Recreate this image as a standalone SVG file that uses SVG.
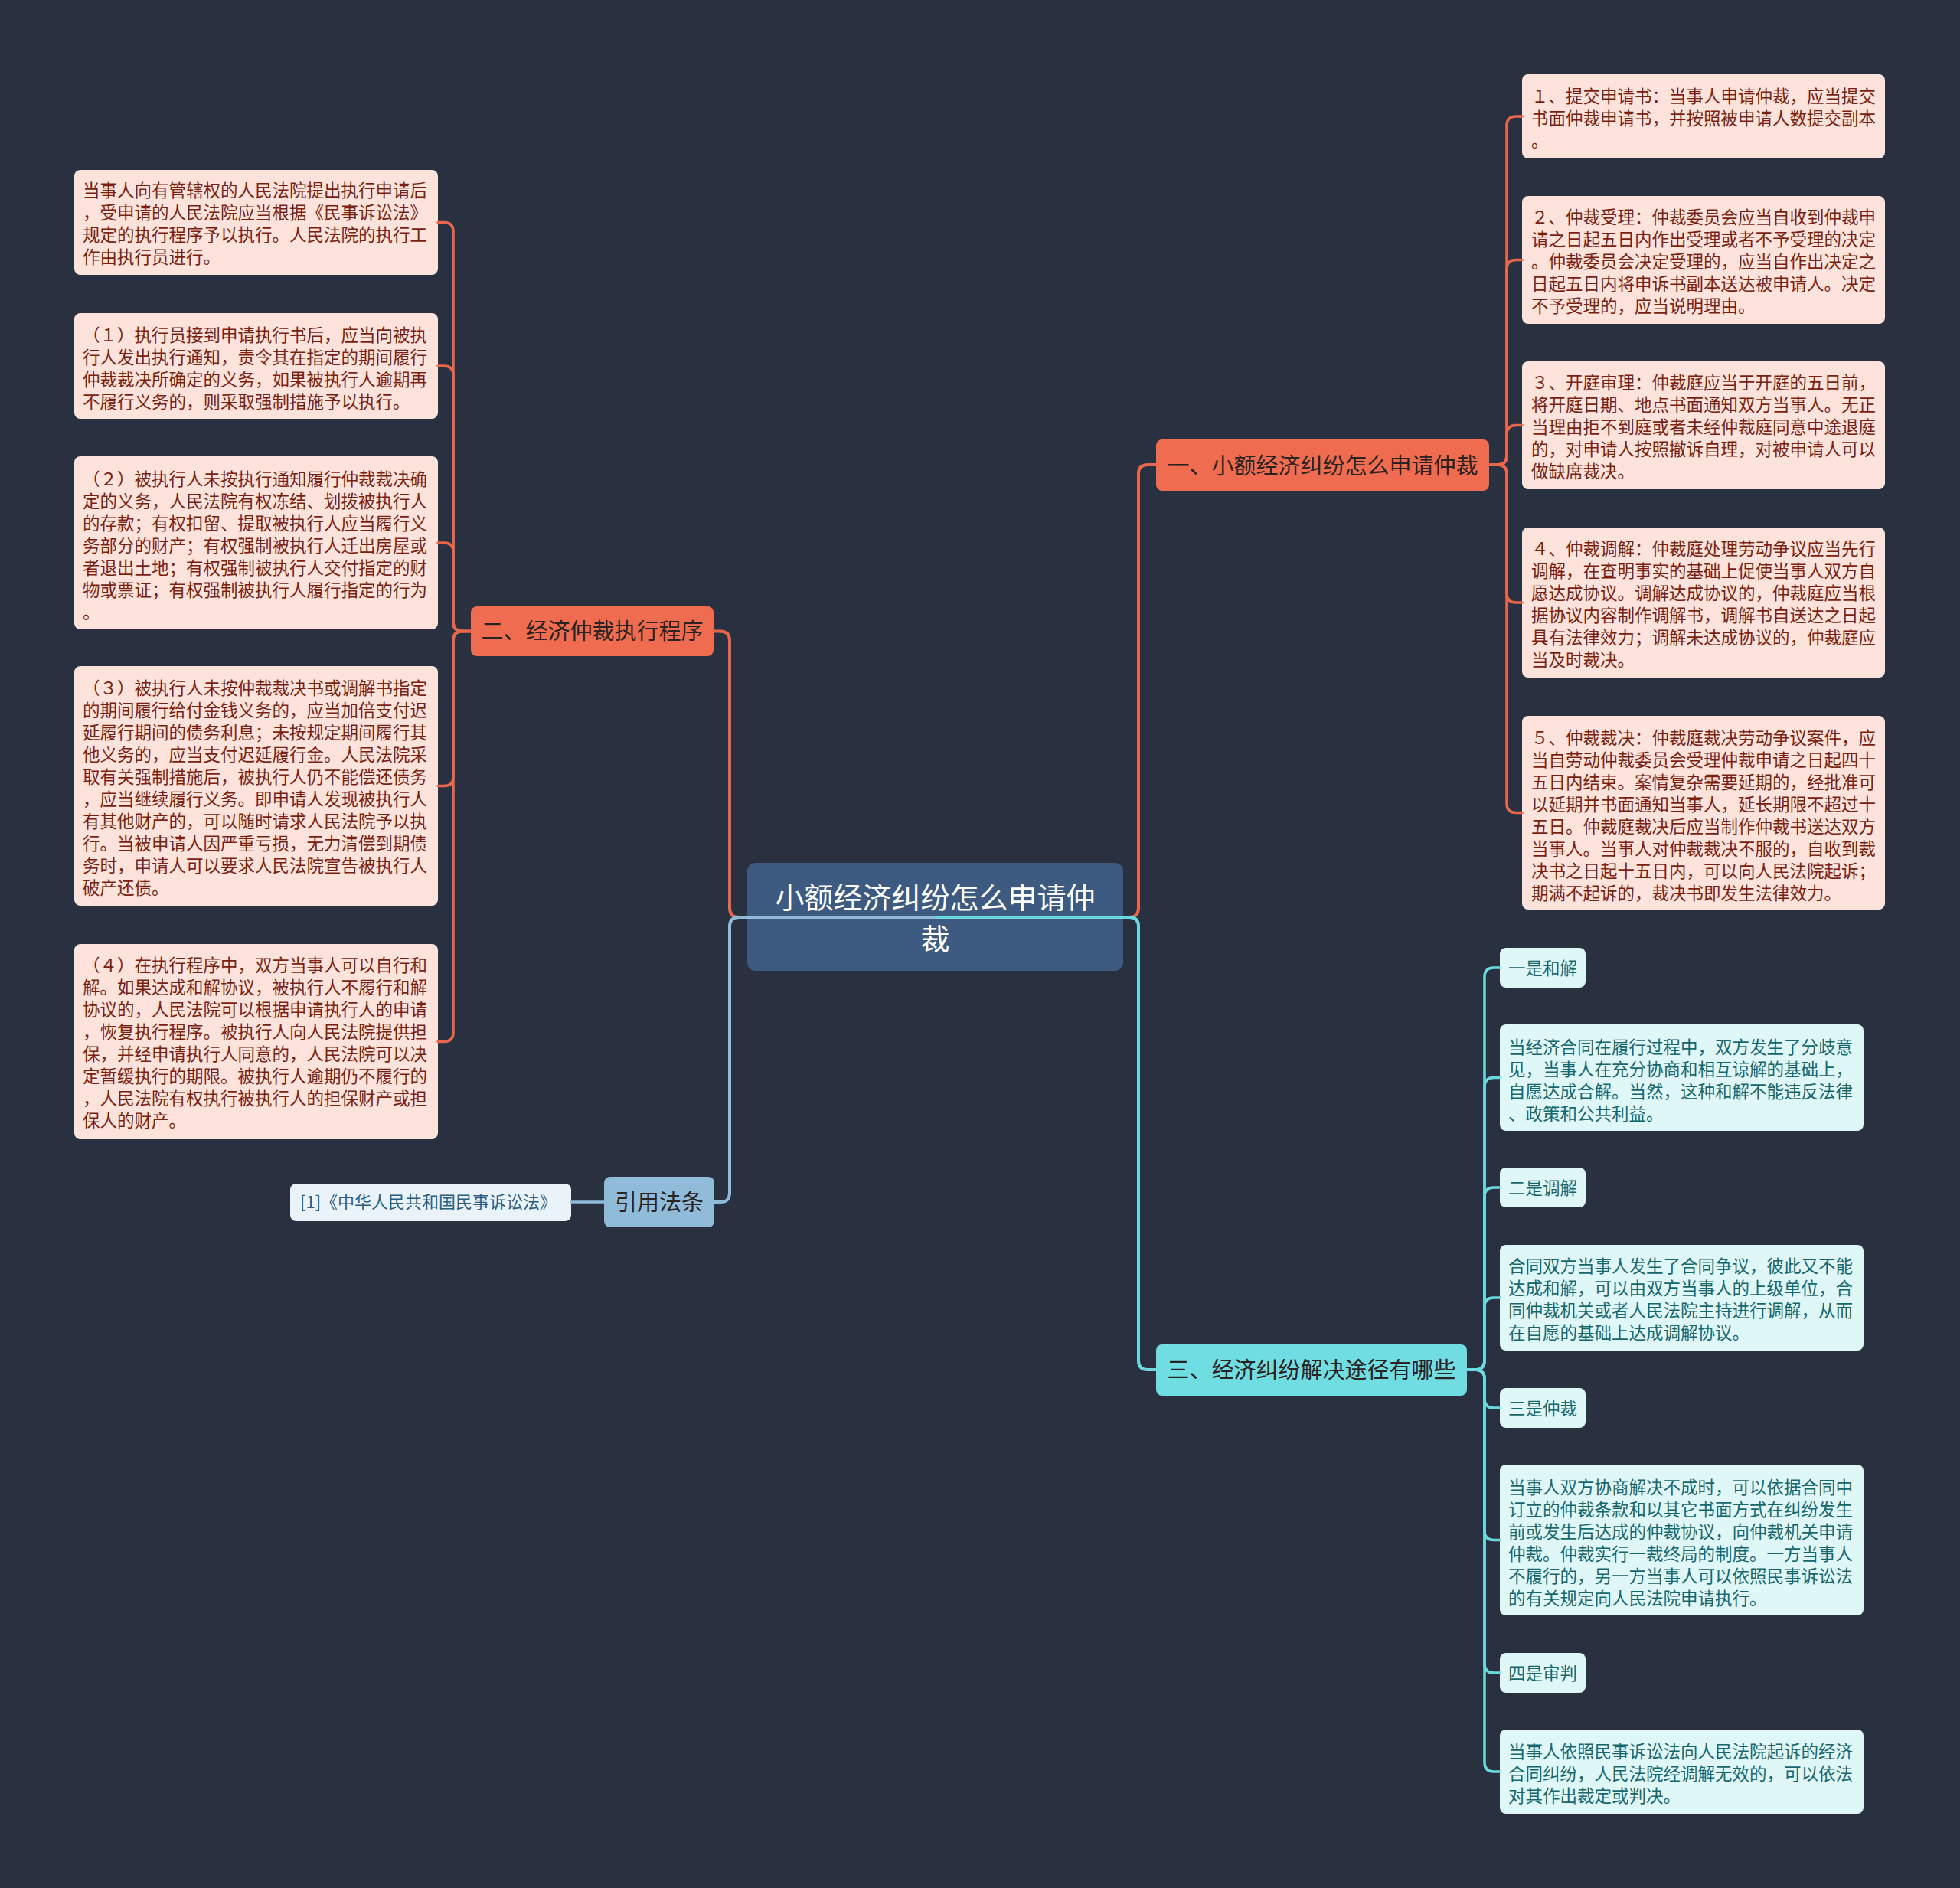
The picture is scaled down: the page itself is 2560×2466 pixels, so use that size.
<svg xmlns="http://www.w3.org/2000/svg" width="2560" height="2466" viewBox="0 0 2560 2466">
<style>
text{font-family:"Noto Sans CJK SC","Noto Sans",sans-serif}
.t{font-size:22.5px}
.tp{fill:#7b1f10}
.tc{fill:#16676d}
.pink{fill:#fde3dc}
.cbox{fill:#e0f7f8}
.ln{fill:none;stroke-width:3.5;stroke-linecap:round;stroke-linejoin:round}
.red{stroke:#e8674c}
.cy{stroke:#6cd9df}
.lb{stroke:#8fbad8}
.main{stroke-width:4}
.br{font-size:29px;fill:#2a2322;text-anchor:middle}
</style>
<rect x="0" y="0" width="2560" height="2466" fill="#293040"/>

<g id="n-center">
<rect x="976" y="1127" width="491" height="141" rx="11" fill="#3d5a80"/>
<text x="1221.5" y="1186" font-size="38" fill="#ffffff" text-anchor="middle">小额经济纠纷怎么申请仲</text>
<text x="1221.5" y="1240" font-size="38" fill="#ffffff" text-anchor="middle">裁</text>
</g>

<g id="n-b1">
<rect x="1510" y="574" width="435" height="67" rx="8" fill="#f06c50"/>
<text class="br" x="1727.5" y="619">一、小额经济纠纷怎么申请仲裁</text>
</g>
<g id="n-b2">
<rect x="615" y="792" width="317" height="65" rx="8" fill="#f06c50"/>
<text class="br" x="773.5" y="835">二、经济仲裁执行程序</text>
</g>
<g id="n-b3">
<rect x="1510" y="1756" width="406" height="67" rx="8" fill="#70dde3"/>
<text class="br" x="1713" y="1800" fill="#1e2b33">三、经济纠纷解决途径有哪些</text>
</g>
<g id="n-ref">
<rect x="789" y="1537" width="144" height="66" rx="8" fill="#90bcd9"/>
<text class="br" x="861" y="1581">引用法条</text>
</g>
<g id="n-ref1">
<rect x="379" y="1546" width="367" height="49" rx="8" fill="#e9f3f9"/>
<text x="392" y="1578" font-size="22" fill="#2a5d80">[1]《中华人民共和国民事诉讼法》</text>
</g>

<g id="n-r1">
<rect class="pink" x="1988" y="97" width="474" height="110" rx="8"/>
<text class="t tp"><tspan x="2000" y="133.5">１、提交申请书：当事人申请仲裁，应当提交</tspan><tspan x="2000" y="162.5">书面仲裁申请书，并按照被申请人数提交副本</tspan><tspan x="2000" y="191.5">。</tspan></text>
</g>
<g id="n-r2">
<rect class="pink" x="1988" y="256" width="474" height="167" rx="8"/>
<text class="t tp"><tspan x="2000" y="291.5">２、仲裁受理：仲裁委员会应当自收到仲裁申</tspan><tspan x="2000" y="320.5">请之日起五日内作出受理或者不予受理的决定</tspan><tspan x="2000" y="349.5">。仲裁委员会决定受理的，应当自作出决定之</tspan><tspan x="2000" y="378.5">日起五日内将申诉书副本送达被申请人。决定</tspan><tspan x="2000" y="407.5">不予受理的，应当说明理由。</tspan></text>
</g>
<g id="n-r3">
<rect class="pink" x="1988" y="472" width="474" height="167" rx="8"/>
<text class="t tp"><tspan x="2000" y="507.5">３、开庭审理：仲裁庭应当于开庭的五日前，</tspan><tspan x="2000" y="536.5">将开庭日期、地点书面通知双方当事人。无正</tspan><tspan x="2000" y="565.5">当理由拒不到庭或者未经仲裁庭同意中途退庭</tspan><tspan x="2000" y="594.5">的，对申请人按照撤诉自理，对被申请人可以</tspan><tspan x="2000" y="623.5">做缺席裁决。</tspan></text>
</g>
<g id="n-r4">
<rect class="pink" x="1988" y="689" width="474" height="196" rx="8"/>
<text class="t tp"><tspan x="2000" y="724.5">４、仲裁调解：仲裁庭处理劳动争议应当先行</tspan><tspan x="2000" y="753.5">调解，在查明事实的基础上促使当事人双方自</tspan><tspan x="2000" y="782.5">愿达成协议。调解达成协议的，仲裁庭应当根</tspan><tspan x="2000" y="811.5">据协议内容制作调解书，调解书自送达之日起</tspan><tspan x="2000" y="840.5">具有法律效力；调解未达成协议的，仲裁庭应</tspan><tspan x="2000" y="869.5">当及时裁决。</tspan></text>
</g>
<g id="n-r5">
<rect class="pink" x="1988" y="935" width="474" height="253" rx="8"/>
<text class="t tp"><tspan x="2000" y="971.5">５、仲裁裁决：仲裁庭裁决劳动争议案件，应</tspan><tspan x="2000" y="1000.5">当自劳动仲裁委员会受理仲裁申请之日起四十</tspan><tspan x="2000" y="1029.5">五日内结束。案情复杂需要延期的，经批准可</tspan><tspan x="2000" y="1058.5">以延期并书面通知当事人，延长期限不超过十</tspan><tspan x="2000" y="1087.5">五日。仲裁庭裁决后应当制作仲裁书送达双方</tspan><tspan x="2000" y="1116.5">当事人。当事人对仲裁裁决不服的，自收到裁</tspan><tspan x="2000" y="1145.5">决书之日起十五日内，可以向人民法院起诉；</tspan><tspan x="2000" y="1174.5">期满不起诉的，裁决书即发生法律效力。</tspan></text>
</g>

<g id="n-l1">
<rect class="pink" x="97" y="222" width="475" height="137" rx="8"/>
<text class="t tp"><tspan x="108" y="256.5">当事人向有管辖权的人民法院提出执行申请后</tspan><tspan x="108" y="285.5">，受申请的人民法院应当根据《民事诉讼法》</tspan><tspan x="108" y="314.5">规定的执行程序予以执行。人民法院的执行工</tspan><tspan x="108" y="343.5">作由执行员进行。</tspan></text>
</g>
<g id="n-l2">
<rect class="pink" x="97" y="409" width="475" height="138" rx="8"/>
<text class="t tp"><tspan x="108" y="445.5">（１）执行员接到申请执行书后，应当向被执</tspan><tspan x="108" y="474.5">行人发出执行通知，责令其在指定的期间履行</tspan><tspan x="108" y="503.5">仲裁裁决所确定的义务，如果被执行人逾期再</tspan><tspan x="108" y="532.5">不履行义务的，则采取强制措施予以执行。</tspan></text>
</g>
<g id="n-l3">
<rect class="pink" x="97" y="596" width="475" height="226" rx="8"/>
<text class="t tp"><tspan x="108" y="633.5">（２）被执行人未按执行通知履行仲裁裁决确</tspan><tspan x="108" y="662.5">定的义务，人民法院有权冻结、划拨被执行人</tspan><tspan x="108" y="691.5">的存款；有权扣留、提取被执行人应当履行义</tspan><tspan x="108" y="720.5">务部分的财产；有权强制被执行人迁出房屋或</tspan><tspan x="108" y="749.5">者退出土地；有权强制被执行人交付指定的财</tspan><tspan x="108" y="778.5">物或票证；有权强制被执行人履行指定的行为</tspan><tspan x="108" y="807.5">。</tspan></text>
</g>
<g id="n-l4">
<rect class="pink" x="97" y="870" width="475" height="313" rx="8"/>
<text class="t tp"><tspan x="108" y="906.5">（３）被执行人未按仲裁裁决书或调解书指定</tspan><tspan x="108" y="935.5">的期间履行给付金钱义务的，应当加倍支付迟</tspan><tspan x="108" y="964.5">延履行期间的债务利息；未按规定期间履行其</tspan><tspan x="108" y="993.5">他义务的，应当支付迟延履行金。人民法院采</tspan><tspan x="108" y="1022.5">取有关强制措施后，被执行人仍不能偿还债务</tspan><tspan x="108" y="1051.5">，应当继续履行义务。即申请人发现被执行人</tspan><tspan x="108" y="1080.5">有其他财产的，可以随时请求人民法院予以执</tspan><tspan x="108" y="1109.5">行。当被申请人因严重亏损，无力清偿到期债</tspan><tspan x="108" y="1138.5">务时，申请人可以要求人民法院宣告被执行人</tspan><tspan x="108" y="1167.5">破产还债。</tspan></text>
</g>
<g id="n-l5">
<rect class="pink" x="97" y="1233" width="475" height="255" rx="8"/>
<text class="t tp"><tspan x="108" y="1268.5">（４）在执行程序中，双方当事人可以自行和</tspan><tspan x="108" y="1297.5">解。如果达成和解协议，被执行人不履行和解</tspan><tspan x="108" y="1326.5">协议的，人民法院可以根据申请执行人的申请</tspan><tspan x="108" y="1355.5">，恢复执行程序。被执行人向人民法院提供担</tspan><tspan x="108" y="1384.5">保，并经申请执行人同意的，人民法院可以决</tspan><tspan x="108" y="1413.5">定暂缓执行的期限。被执行人逾期仍不履行的</tspan><tspan x="108" y="1442.5">，人民法院有权执行被执行人的担保财产或担</tspan><tspan x="108" y="1471.5">保人的财产。</tspan></text>
</g>

<g id="n-c1">
<rect class="cbox" x="1959" y="1238" width="112" height="52" rx="8"/>
<text class="t tc" x="1970" y="1272.5">一是和解</text>
</g>
<g id="n-c2">
<rect class="cbox" x="1959" y="1338" width="475" height="139" rx="8"/>
<text class="t tc"><tspan x="1970" y="1375.5">当经济合同在履行过程中，双方发生了分歧意</tspan><tspan x="1970" y="1404.5">见，当事人在充分协商和相互谅解的基础上，</tspan><tspan x="1970" y="1433.5">自愿达成合解。当然，这种和解不能违反法律</tspan><tspan x="1970" y="1462.5">、政策和公共利益。</tspan></text>
</g>
<g id="n-c3">
<rect class="cbox" x="1959" y="1525" width="112" height="52" rx="8"/>
<text class="t tc" x="1970" y="1559.5">二是调解</text>
</g>
<g id="n-c4">
<rect class="cbox" x="1959" y="1626" width="475" height="138" rx="8"/>
<text class="t tc"><tspan x="1970" y="1661.5">合同双方当事人发生了合同争议，彼此又不能</tspan><tspan x="1970" y="1690.5">达成和解，可以由双方当事人的上级单位，合</tspan><tspan x="1970" y="1719.5">同仲裁机关或者人民法院主持进行调解，从而</tspan><tspan x="1970" y="1748.5">在自愿的基础上达成调解协议。</tspan></text>
</g>
<g id="n-c5">
<rect class="cbox" x="1959" y="1813" width="112" height="52" rx="8"/>
<text class="t tc" x="1970" y="1847.5">三是仲裁</text>
</g>
<g id="n-c6">
<rect class="cbox" x="1959" y="1913" width="475" height="197" rx="8"/>
<text class="t tc"><tspan x="1970" y="1950.5">当事人双方协商解决不成时，可以依据合同中</tspan><tspan x="1970" y="1979.5">订立的仲裁条款和以其它书面方式在纠纷发生</tspan><tspan x="1970" y="2008.5">前或发生后达成的仲裁协议，向仲裁机关申请</tspan><tspan x="1970" y="2037.5">仲裁。仲裁实行一裁终局的制度。一方当事人</tspan><tspan x="1970" y="2066.5">不履行的，另一方当事人可以依照民事诉讼法</tspan><tspan x="1970" y="2095.5">的有关规定向人民法院申请执行。</tspan></text>
</g>
<g id="n-c7">
<rect class="cbox" x="1959" y="2159" width="112" height="52" rx="8"/>
<text class="t tc" x="1970" y="2193.5">四是审判</text>
</g>
<g id="n-c8">
<rect class="cbox" x="1959" y="2259" width="475" height="110" rx="8"/>
<text class="t tc"><tspan x="1970" y="2295.5">当事人依照民事诉讼法向人民法院起诉的经济</tspan><tspan x="1970" y="2324.5">合同纠纷，人民法院经调解无效的，可以依法</tspan><tspan x="1970" y="2353.5">对其作出裁定或判决。</tspan></text>
</g>

<g id="connectors">
<path class="ln red main" d="M1221,1198 H1475 Q1487,1198 1487,1186 V619 Q1487,607 1499,607 H1510"/>
<path class="ln red main" d="M1221,1198 H965 Q953,1198 953,1186 V836.5 Q953,824.5 941,824.5 H932"/>
<path class="ln cy main" d="M1221,1198 H1475 Q1487,1198 1487,1210 V1777 Q1487,1789 1499,1789 H1510"/>
<path class="ln lb main" d="M1221,1198 H965 Q953,1198 953,1210 V1558 Q953,1570 941,1570 H933"/>
<path class="ln lb" d="M789,1570 H746"/>

<path class="ln red" d="M1945,607 H1956 Q1968,607 1968,595 V164 Q1968,152 1980,152 H1988"/>
<path class="ln red" d="M1945,607 H1956 Q1968,607 1968,595 V351.5 Q1968,339.5 1980,339.5 H1988"/>
<path class="ln red" d="M1945,607 H1956 Q1968,607 1968,595 V567.5 Q1968,555.5 1980,555.5 H1988"/>
<path class="ln red" d="M1945,607 H1956 Q1968,607 1968,619 V775 Q1968,787 1980,787 H1988"/>
<path class="ln red" d="M1945,607 H1956 Q1968,607 1968,619 V1049.5 Q1968,1061.5 1980,1061.5 H1988"/>

<path class="ln red" d="M615,824.5 H604 Q592,824.5 592,812.5 V302.5 Q592,290.5 580,290.5 H572"/>
<path class="ln red" d="M615,824.5 H604 Q592,824.5 592,812.5 V490 Q592,478 580,478 H572"/>
<path class="ln red" d="M615,824.5 H604 Q592,824.5 592,812.5 V721 Q592,709 580,709 H572"/>
<path class="ln red" d="M615,824.5 H604 Q592,824.5 592,836.5 V1014.5 Q592,1026.5 580,1026.5 H572"/>
<path class="ln red" d="M615,824.5 H604 Q592,824.5 592,836.5 V1348.5 Q592,1360.5 580,1360.5 H572"/>

<path class="ln cy" d="M1916,1789 H1927 Q1939,1789 1939,1777 V1276 Q1939,1264 1951,1264 H1959"/>
<path class="ln cy" d="M1916,1789 H1927 Q1939,1789 1939,1777 V1419.5 Q1939,1407.5 1951,1407.5 H1959"/>
<path class="ln cy" d="M1916,1789 H1927 Q1939,1789 1939,1777 V1563 Q1939,1551 1951,1551 H1959"/>
<path class="ln cy" d="M1916,1789 H1927 Q1939,1789 1939,1777 V1707 Q1939,1695 1951,1695 H1959"/>
<path class="ln cy" d="M1916,1789 H1927 Q1939,1789 1939,1801 V1827 Q1939,1839 1951,1839 H1959"/>
<path class="ln cy" d="M1916,1789 H1927 Q1939,1789 1939,1801 V1999.5 Q1939,2011.5 1951,2011.5 H1959"/>
<path class="ln cy" d="M1916,1789 H1927 Q1939,1789 1939,1801 V2173 Q1939,2185 1951,2185 H1959"/>
<path class="ln cy" d="M1916,1789 H1927 Q1939,1789 1939,1801 V2302 Q1939,2314 1951,2314 H1959"/>
</g>
</svg>
